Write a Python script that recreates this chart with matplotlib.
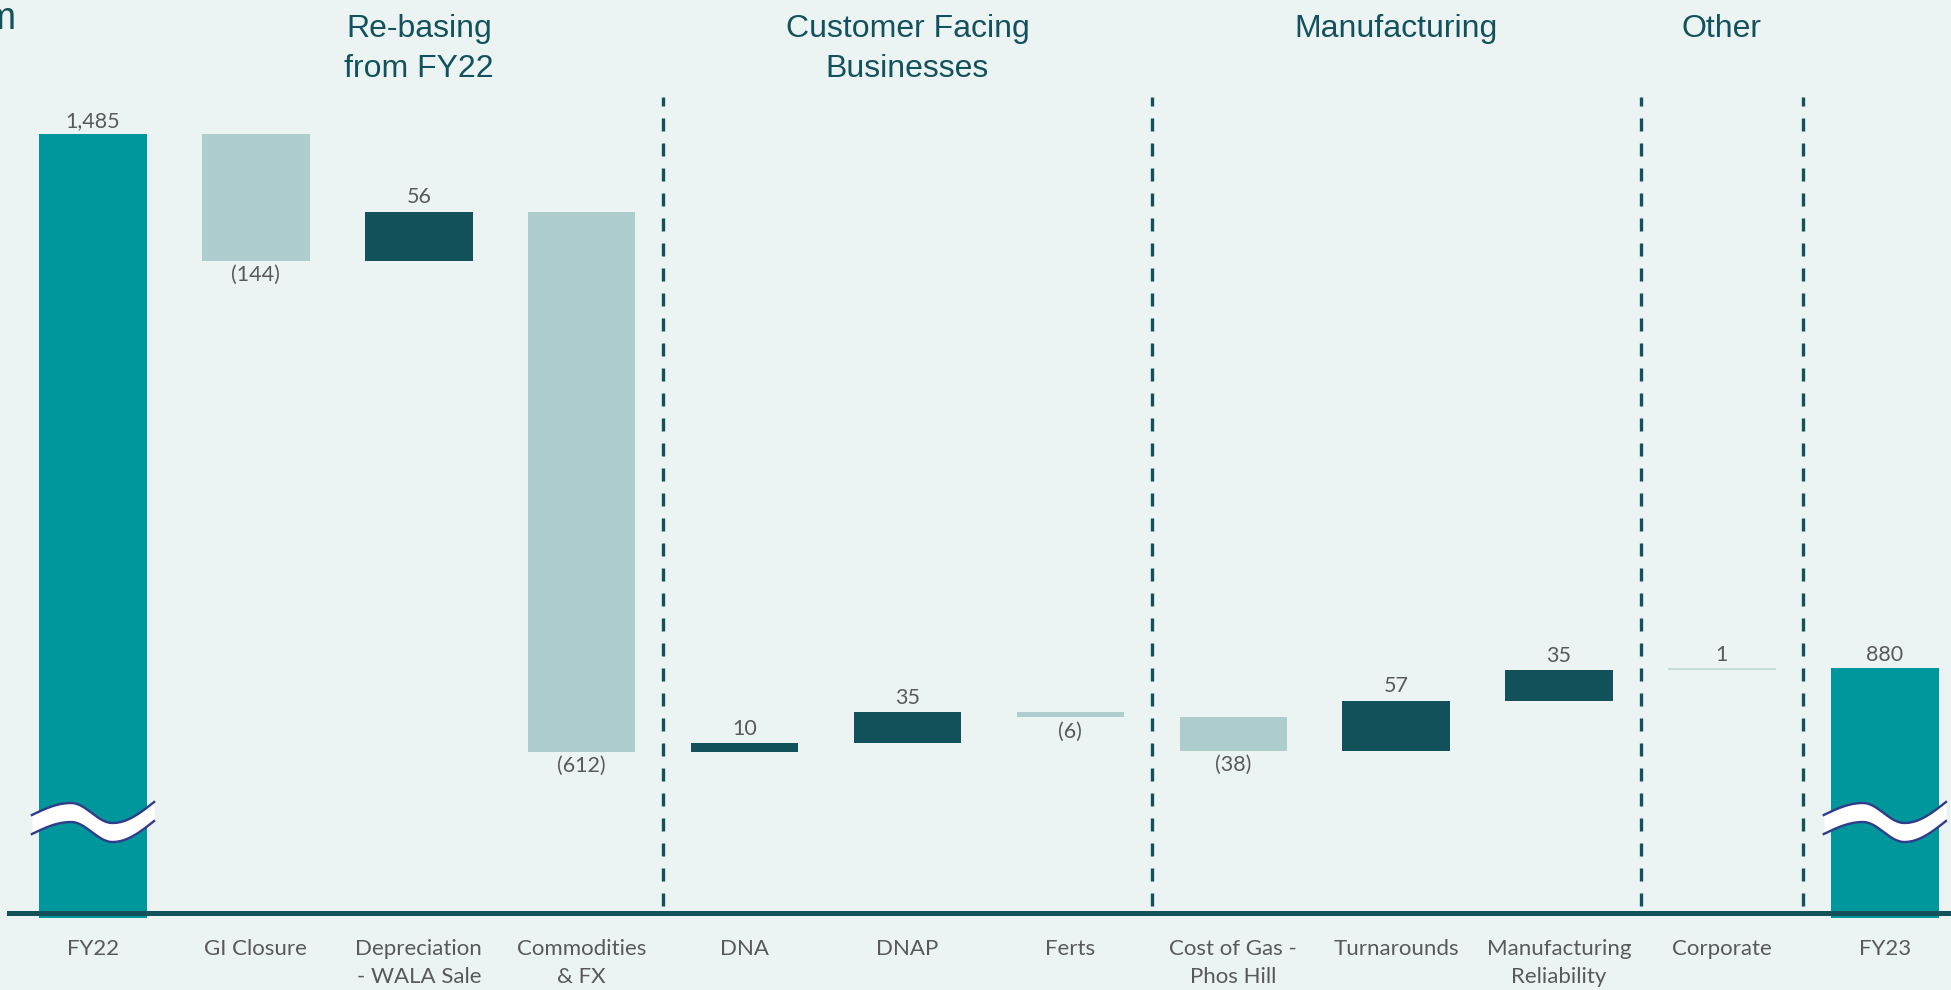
import matplotlib.pyplot as plt
import numpy as np
from matplotlib.transforms import blended_transform_factory

# ---- data -------------------------------------------------------------
categories = [
    "FY22", "GI Closure", "Depreciation\n- WALA Sale", "Commodities\n& FX",
    "DNA", "DNAP", "Ferts", "Cost of Gas -\nPhos Hill", "Turnarounds",
    "Manufacturing\nReliability", "Corporate", "FY23",
]
fy22_total = 1485
changes = [-144, 56, -612, 10, 35, -6, -38, 57, 35, 1]
fy23_total = 880
group_names = ["Re-basing\nfrom FY22", "Customer Facing\nBusinesses", "Manufacturing", "Other"]
group_sizes = [3, 3, 3, 1]
unit_label = "A$m"

# ---- style ------------------------------------------------------------
BG = "#EBF4F3"
TOTAL = "#00979C"
UP = "#13515B"
DOWN = "#AECECD"
TINY = "#C8DCDC"  # hairline bars render faint in the original
TEXT = "#595959"
TITLE = "#13525C"
WAVE_EDGE = "#2E3C8A"

W, H = 1951, 990
fig = plt.figure(figsize=(W / 100, H / 100), dpi=100, facecolor=BG)
ax_bottom_px = 918  # axes bottom, pixels from top
ax = fig.add_axes([0, (H - ax_bottom_px) / H, 1, ax_bottom_px / H])
ax.set_facecolor(BG)
ax.set_xlim(-0.571, 11.406)
ax.set_ylim(596.7, 1636.8)
for s in ax.spines.values():
    s.set_visible(False)
ax.set_yticks([])

# running totals for the floating bars
running = fy22_total + np.concatenate([[0], np.cumsum(changes)])
starts = running[:-1]
ends = running[1:]
bar_w = 0.66
base = ax.get_ylim()[0]

ax.bar(0, fy22_total - base, bottom=base, width=bar_w, color=TOTAL, zorder=2)
ax.bar(len(categories) - 1, fy23_total - base, bottom=base, width=bar_w, color=TOTAL, zorder=2)

lab_kw = dict(fontsize=15.5, color=TEXT, family="Lato", ha="center", textcoords="offset points")
ax.annotate(f"{fy22_total:,}", (0, fy22_total), xytext=(0, 2), va="bottom", **lab_kw)
ax.annotate(f"{fy23_total:,}", (len(categories) - 1, fy23_total), xytext=(0, 2), va="bottom", **lab_kw)

for i, (s, e, d) in enumerate(zip(starts, ends, changes), start=1):
    lo, hi = min(s, e), max(s, e)
    if abs(d) < 3:
        col = TINY
    else:
        col = UP if d > 0 else DOWN
    ax.bar(i, max(hi - lo, 1.8), bottom=lo, width=bar_w, color=col, zorder=2)
    if d > 0:
        ax.annotate(f"{d:,}", (i, hi), xytext=(0, 3), va="bottom", **lab_kw)
    else:
        ax.annotate(f"({-d:,})", (i, lo), xytext=(0, -3), va="top", **lab_kw)

# baseline
ax.axhline(602.4, xmin=9 / W, xmax=1, color=UP, lw=3.6, zorder=3)

# group dividers and titles
edges = np.cumsum([1] + group_sizes) - 0.5
for x in edges[1:]:
    ax.axvline(x, ymin=(ax_bottom_px - 906) / ax_bottom_px, ymax=(ax_bottom_px - 97) / ax_bottom_px,
               color=UP, lw=2.4, dashes=(3.9, 3.6), zorder=1)
tf = blended_transform_factory(ax.transData, fig.transFigure)
for name, a, b in zip(group_names, edges[:-1], edges[1:]):
    fig.text((a + b) / 2, 1 - 14 / H, name, transform=tf, ha="center", va="top",
             fontsize=23, color=TITLE, family="Liberation Sans", linespacing=1.45)

fig.text(17 / W, 1 - 1 / H, unit_label, ha="right", va="top", fontsize=27,
         color=UP, family="Liberation Sans")

# category labels
ax.set_xticks(range(len(categories)), categories)
ax.tick_params(axis="x", length=0, pad=15)
for t in ax.get_xticklabels():
    t.set_fontfamily("Lato")
    t.set_fontsize(16)
    t.set_color(TEXT)
    t.set_linespacing(1.5)

# axis-break squiggle over the two total bars
def to_ax(p):
    return (ax_bottom_px - p) / ax_bottom_px

def squiggle(xc):
    half = bar_w / 2 + 0.045
    t = np.linspace(0, 1, 200)
    top = np.where(
        t < 0.32, 815 + (803 - 815) * np.sin(np.pi / 2 * t / 0.32),
        np.where(t < 0.66, 803 + (823 - 803) * (1 - np.cos(np.pi * (t - 0.32) / 0.34)) / 2,
                 823 + (802 - 823) * (1 - np.cos(np.pi / 2 * (t - 0.66) / 0.34))))
    bot = top + 19
    xs = xc - half + 2 * half * t
    bt = blended_transform_factory(ax.transData, ax.transAxes)
    ax.fill_between(xs, to_ax(bot), to_ax(top), color="white", transform=bt, zorder=4, lw=0)
    ax.plot(xs, to_ax(top), color=WAVE_EDGE, lw=1.7, transform=bt, zorder=5)
    ax.plot(xs, to_ax(bot), color=WAVE_EDGE, lw=1.7, transform=bt, zorder=5)

squiggle(0)
squiggle(len(categories) - 1)

fig.savefig("out.png", dpi=100, facecolor=BG)
